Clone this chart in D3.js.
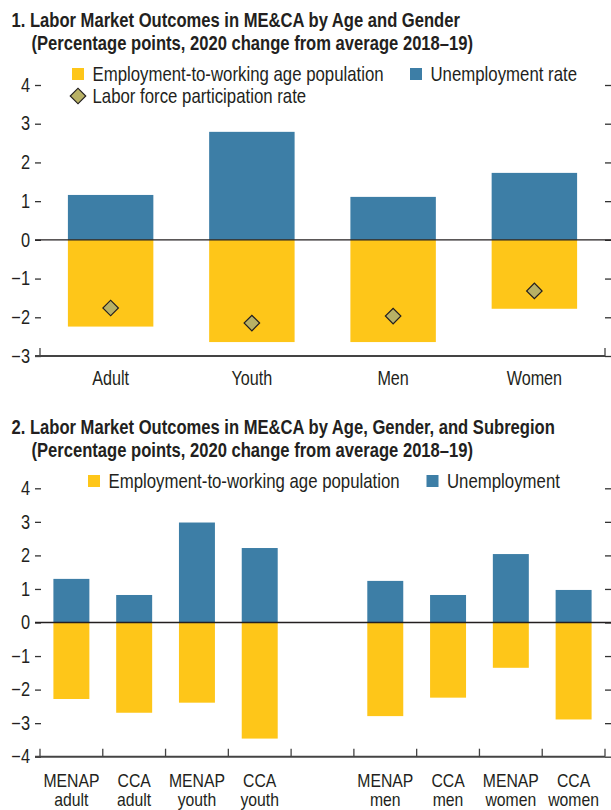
<!DOCTYPE html>
<html>
<head>
<meta charset="utf-8">
<script src="https://cdn.jsdelivr.net/npm/d3@7"></script>
<style>
  body { margin: 0; background: #fff; }
  svg text { font-family: "Liberation Sans Narrow", "Arial Narrow", "Liberation Sans", Arial, sans-serif; fill: #231f20; }
</style>
</head>
<body>
<script>
// panel 1: by age and gender
const p1Categories = ['Adult', 'Youth', 'Men', 'Women'];
const p1Employment = [-2.24, -2.64, -2.64, -1.78];
const p1Unemployment = [1.16, 2.79, 1.11, 1.73];
const p1Participation = [-1.76, -2.15, -1.97, -1.32];
const p1Ticks = [4, 3, 2, 1, 0, -1, -2, -3];

// panel 2: by age, gender and subregion ('' is the empty gap slot)
const p2Categories = ['MENAP adult', 'CCA adult', 'MENAP youth', 'CCA youth', '',
  'MENAP men', 'CCA men', 'MENAP women', 'CCA women'];
const p2Employment = [-2.28, -2.69, -2.39, -3.46, null, -2.79, -2.24, -1.35, -2.89];
const p2Unemployment = [1.30, 0.82, 2.98, 2.22, null, 1.24, 0.82, 2.04, 0.97];
const p2Ticks = [4, 3, 2, 1, 0, -1, -2, -3, -4];

const YELLOW = '#fec619', BLUE = '#3d7ea6', OLIVE = '#b8b165';
const W = 611, H = 810;
const SX = 0.83; // no narrow font installed, so squeeze text horizontally

const svg = d3.create('svg')
    .attr('width', W)
    .attr('height', H)
    .attr('viewBox', [0, 0, W, H]);

// condensed text at (x, y)
function ctext(parent, x, y, str, size, opts = {}) {
  return parent.append('text')
      .attr('transform', `translate(${x},${y}) scale(${opts.sx || SX},1)`)
      .attr('font-size', size)
      .attr('font-weight', opts.bold ? 'bold' : null)
      .attr('text-anchor', opts.anchor || 'start')
      .text(str);
}

function title(y, line1, line2) {
  ctext(svg, 11.5, y, line1, 20, { bold: true });
  ctext(svg, 31.5, y + 22.5, line2, 20, { bold: true });
}

function legendSquare(x, y, color, label) {
  svg.append('rect').attr('x', x).attr('y', y).attr('width', 12).attr('height', 12).attr('fill', color);
  ctext(svg, x + 20.5, y + 12.5, label, 20, { sx: 0.84 });
}

function panel(cfg) {
  const y = d3.scaleLinear().domain(cfg.domain).range(cfg.yRange);
  const x = d3.scaleBand()
      .domain(cfg.categories)
      .range([40, 605])
      .paddingInner(cfg.pad)
      .paddingOuter(cfg.pad / 2);

  const g = svg.append('g');

  // left ticks with labels
  g.append('g')
      .attr('transform', 'translate(41,0)')
      .call(d3.axisLeft(y).tickValues(cfg.ticks).tickSize(6).tickPadding(5).tickFormat(d3.format('d')))
      .call(a => a.select('.domain').remove())
      .call(a => a.selectAll('line').attr('stroke', '#333').attr('stroke-width', 1.3))
      .call(a => a.selectAll('text')
          .attr('font-size', 19.5)
          .attr('fill', '#231f20')
          .attr('font-family', null)
          .attr('transform', function () { return `translate(${this.getAttribute('x')},0) scale(0.84,1)`; })
          .attr('x', 0));

  // right ticks
  g.append('g')
      .attr('transform', 'translate(605,0)')
      .call(d3.axisRight(y).tickValues(cfg.ticks).tickSize(6).tickFormat(''))
      .call(a => a.select('.domain').remove())
      .call(a => a.selectAll('line').attr('stroke', '#333').attr('stroke-width', 1.3));

  // unemployment (positive) and employment (negative)
  g.selectAll('rect.unemp')
    .data(cfg.categories.map((c, i) => ({ c, v: cfg.unemployment[i] })).filter(d => d.v != null))
    .join('rect')
      .attr('x', d => x(d.c))
      .attr('y', d => y(d.v))
      .attr('width', x.bandwidth())
      .attr('height', d => y(0) - y(d.v))
      .attr('fill', BLUE);

  g.selectAll('rect.emp')
    .data(cfg.categories.map((c, i) => ({ c, v: cfg.employment[i] })).filter(d => d.v != null))
    .join('rect')
      .attr('x', d => x(d.c))
      .attr('y', y(0))
      .attr('width', x.bandwidth())
      .attr('height', d => y(d.v) - y(0))
      .attr('fill', YELLOW);

  if (cfg.participation) {
    g.selectAll('path.lfp')
      .data(cfg.categories.map((c, i) => ({ c, v: cfg.participation[i] })))
      .join('path')
        .attr('d', d3.symbol(d3.symbolSquare, 120))
        .attr('transform', d => `translate(${x(d.c) + x.bandwidth() / 2},${y(d.v)}) rotate(45)`)
        .attr('fill', OLIVE)
        .attr('stroke', '#231f20')
        .attr('stroke-width', 1.2);
  }

  // zero line
  g.append('line')
      .attr('x1', 35).attr('x2', 611)
      .attr('y1', y(0)).attr('y2', y(0))
      .attr('stroke', '#231f20').attr('stroke-width', 1.3);

  // bottom axis line and its ticks
  const yb = y(cfg.domain[0]);
  g.append('line')
      .attr('x1', 35).attr('x2', 605)
      .attr('y1', yb).attr('y2', yb)
      .attr('stroke', '#444').attr('stroke-width', 2);
  g.selectAll('line.xt')
    .data(cfg.xTicks(x))
    .join('line')
      .attr('x1', d => d).attr('x2', d => d)
      .attr('y1', yb - 8).attr('y2', yb)
      .attr('stroke', '#444').attr('stroke-width', 1.3);

  // category labels
  const lab = g.selectAll('text.cat')
    .data(cfg.categories.filter(c => c !== ''))
    .join('text')
      .attr('text-anchor', 'middle')
      .attr('font-size', cfg.labelSize)
      .attr('transform', d => `translate(${x(d) + x.bandwidth() / 2},${cfg.labelY}) scale(${SX},1)`);
  lab.selectAll('tspan')
    .data(d => cfg.twoLine ? d.split(' ') : [d])
    .join('tspan')
      .attr('x', 0)
      .attr('dy', (d, i) => i === 0 ? 0 : 20)
      .text(d => d);
}

// ---- panel 1
title(27, '1. Labor Market Outcomes in ME&CA by Age and Gender',
  '(Percentage points, 2020 change from average 2018\u201319)');
legendSquare(72, 68, YELLOW, 'Employment-to-working age population');
legendSquare(410, 68, BLUE, 'Unemployment rate');
svg.append('path')
    .attr('d', d3.symbol(d3.symbolSquare, 120))
    .attr('transform', 'translate(78,96) rotate(45)')
    .attr('fill', OLIVE).attr('stroke', '#231f20').attr('stroke-width', 1.2);
ctext(svg, 92.5, 103, 'Labor force participation rate', 20, { sx: 0.84 });

panel({
  categories: p1Categories,
  employment: p1Employment,
  unemployment: p1Unemployment,
  participation: p1Participation,
  ticks: p1Ticks,
  domain: [-3, 4],
  yRange: [356, 85],
  pad: 0.395,
  labelY: 385,
  labelSize: 19.5,
  twoLine: false,
  xTicks: x => [40, 605]
});

// ---- panel 2
title(434, '2. Labor Market Outcomes in ME&CA by Age, Gender, and Subregion',
  '(Percentage points, 2020 change from average 2018\u201319)');
legendSquare(88, 475, YELLOW, 'Employment-to-working age population');
legendSquare(426.5, 475, BLUE, 'Unemployment');

panel({
  categories: p2Categories,
  employment: p2Employment,
  unemployment: p2Unemployment,
  participation: null,
  ticks: p2Ticks,
  domain: [-4, 4],
  yRange: [756.7, 488.3],
  pad: 0.427,
  labelY: 786.5,
  labelSize: 19,
  twoLine: true,
  xTicks: x => d3.range(p2Categories.length + 1).map(i => 40 + i * x.step())
});

document.body.append(svg.node());
</script>
</body>
</html>
